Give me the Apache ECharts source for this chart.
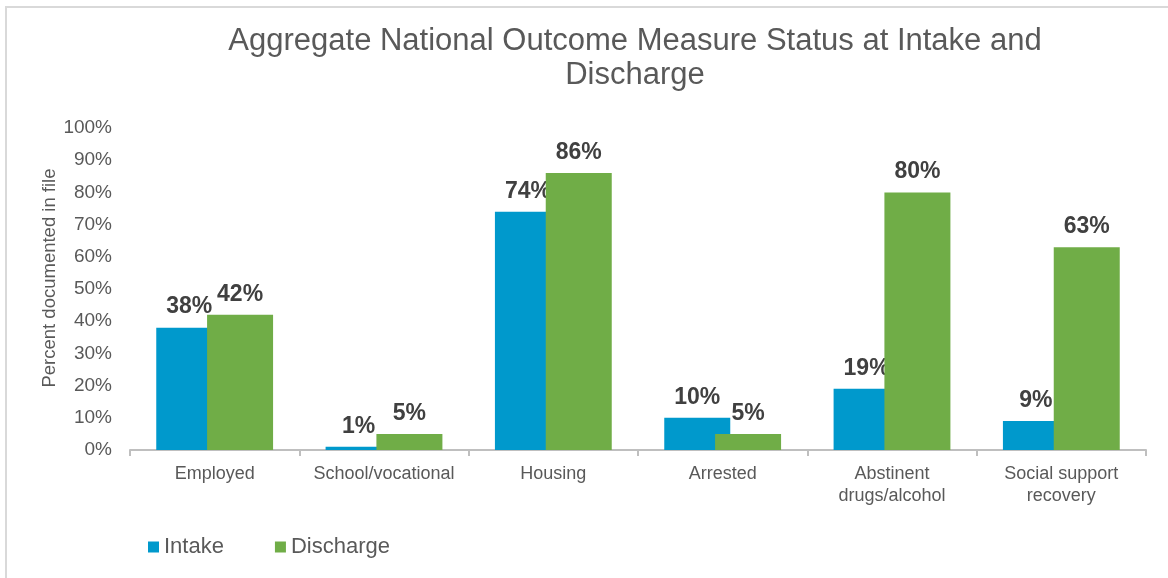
<!DOCTYPE html>
<html>
<head>
<meta charset="utf-8">
<title>Aggregate National Outcome Measure Status</title>
<script src="https://cdn.jsdelivr.net/npm/echarts@6/dist/echarts.min.js"></script>
<style>
  html, body { margin: 0; padding: 0; background: #ffffff; }
  #chart { width: 1168px; height: 578px; }
</style>
</head>
<body>
<div id="chart"></div>
<script>
// Outcome measures and the share of files documenting each, at intake and at discharge
const categories = ['Employed', 'School/vocational', 'Housing', 'Arrested', 'Abstinent\ndrugs/alcohol', 'Social support\nrecovery'];
const intake = [38, 1, 74, 10, 19, 9];
const discharge = [42, 5, 86, 5, 80, 63];
const yTicks = [0, 10, 20, 30, 40, 50, 60, 70, 80, 90, 100];

const textGrey = '#595959';
const font = 'Liberation Sans, Arial, sans-serif';

const chart = echarts.init(document.getElementById('chart'), null, { renderer: 'canvas' });

const valueLabel = {
  show: true,
  position: 'top',
  distance: 9,
  formatter: '{c}%',
  color: '#404040',
  fontFamily: font,
  fontWeight: 'bold',
  fontSize: 23
};

chart.setOption({
  backgroundColor: '#ffffff',
  animation: false,
  title: {
    text: 'Aggregate National Outcome Measure Status at Intake and\nDischarge',
    left: 630,
    top: 19,
    textAlign: 'center',
    textStyle: {
      color: textGrey,
      fontFamily: font,
      fontWeight: 'normal',
      fontSize: 31,
      lineHeight: 34
    }
  },
  graphic: [{
    type: 'rect',
    shape: { x: 6, y: 7, width: 1200, height: 620 },
    style: { fill: 'none', stroke: '#d9d9d9', lineWidth: 2 },
    silent: true,
    z: -1
  }],
  legend: {
    left: 143,
    top: 531,
    itemWidth: 11,
    itemHeight: 11,
    itemGap: 51,
    icon: 'rect',
    textStyle: { color: textGrey, fontFamily: font, fontSize: 22, padding: [0, 0, 0, 0] },
    data: ['Intake', 'Discharge']
  },
  grid: { left: 130, right: 22, top: 128, bottom: 128, containLabel: false },
  xAxis: {
    type: 'category',
    data: categories,
    axisLine: { show: true, lineStyle: { color: '#bfbfbf', width: 2 } },
    axisTick: { show: true, length: 6, lineStyle: { color: '#bfbfbf', width: 2 } },
    axisLabel: {
      color: textGrey,
      fontFamily: font,
      fontSize: 18,
      lineHeight: 22,
      margin: 13,
      interval: 0
    }
  },
  yAxis: {
    type: 'value',
    min: yTicks[0],
    max: yTicks[yTicks.length - 1],
    interval: 10,
    name: 'Percent documented in file',
    nameLocation: 'middle',
    nameRotate: 90,
    nameGap: 71,
    nameMoveOverlap: false,
    nameTextStyle: { color: textGrey, fontFamily: font, fontSize: 18.5, padding: [0, 0, 0, 22] },
    axisLine: { show: false },
    axisTick: { show: false },
    splitLine: { show: false },
    axisLabel: {
      color: textGrey,
      fontFamily: font,
      fontSize: 19,
      margin: 18,
      formatter: '{value}%'
    }
  },
  series: [
    {
      name: 'Intake',
      type: 'bar',
      data: intake,
      barWidth: 66,
      barGap: '-23%',
      itemStyle: { color: '#0099cc' },
      label: valueLabel,
      z: 2
    },
    {
      name: 'Discharge',
      type: 'bar',
      data: discharge,
      barWidth: 66,
      itemStyle: { color: '#70ad47' },
      label: valueLabel,
      z: 3
    }
  ]
});
</script>
</body>
</html>
